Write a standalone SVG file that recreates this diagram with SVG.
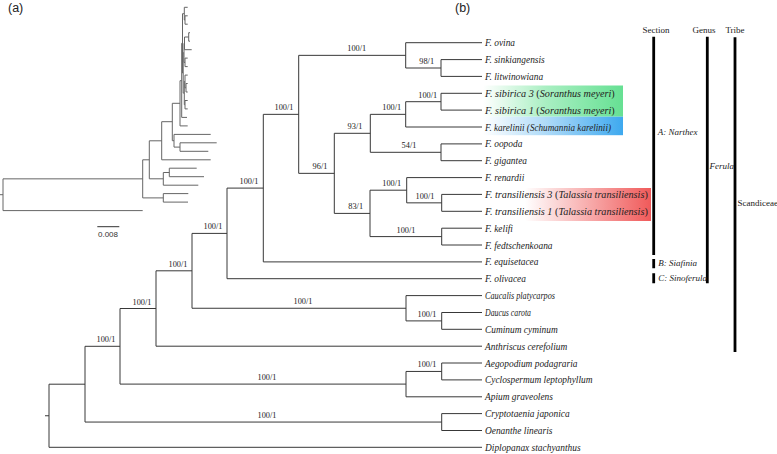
<svg xmlns="http://www.w3.org/2000/svg" width="777" height="454" viewBox="0 0 777 454">
<style>
.br{fill:none;stroke:#383838;stroke-width:1}
.bra{fill:none;stroke:#666;stroke-width:1}
.tx{font-family:"Liberation Serif","Times New Roman",serif;font-style:italic;font-size:9.4px;fill:#222}
.txl{font-size:10.2px}
.up{font-style:normal}
.sp{font-family:"Liberation Serif","Times New Roman",serif;font-size:8.3px;fill:#222;text-anchor:middle}
.hd{font-family:"Liberation Serif","Times New Roman",serif;font-size:9px;fill:#222;text-anchor:middle}
.cl{font-family:"Liberation Serif","Times New Roman",serif;font-size:9px;fill:#222}
.it{font-style:italic}
.bar{stroke:#000;stroke-width:2.8;fill:none}
.pl{font-family:"Liberation Sans",Arial,sans-serif;font-size:12.5px;fill:#222}
</style>
<defs>
<linearGradient id="gGreen" x1="0" y1="0" x2="1" y2="0">
<stop offset="0" stop-color="#ffffff"/>
<stop offset="0.45" stop-color="#a9efc2"/>
<stop offset="1" stop-color="#66e093"/>
</linearGradient>
<linearGradient id="gBlue" x1="0" y1="0" x2="1" y2="0">
<stop offset="0" stop-color="#ffffff"/>
<stop offset="0.5" stop-color="#a5d6f7"/>
<stop offset="1" stop-color="#3ea9ef"/>
</linearGradient>
<linearGradient id="gRed" x1="0" y1="0" x2="1" y2="0">
<stop offset="0" stop-color="#ffffff"/>
<stop offset="0.25" stop-color="#ffffff"/>
<stop offset="1" stop-color="#f05a5a"/>
</linearGradient>
</defs>
<rect width="777" height="454" fill="#ffffff"/>

<!-- Panel (a) -->
<g id="panel-a">
<text class="pl" x="8" y="11.5">(a)</text>
<path class="bra" d="M0 194.7H3 M3 178.85V210.6 M3 178.85H142.7 M3 210.6H142.7
M142.7 159.8V197.9 M142.7 197.9H163.3 M163.3 193.6V202.1 M163.3 193.6H188.3 M163.3 202.1H188
M142.7 159.8H149.3 M149.3 140.8V178.8 M149.3 178.8H163.3 M163.3 172.5V185.2 M163.3 185.2H198.3 M163.3 172.5H169.3 M169.3 168.2V176.7 M169.3 168.2H196.7 M169.3 176.7H204
M149.3 140.8H161.7 M161.7 121.7V159.8 M161.7 159.8H210.7
M161.7 121.7H172.3 M172.3 103.3V140.7 M172.3 140.7H174 M174 134.4V147.1 M174 134.4H210.7 M174 147.1H180 M180 142.8V151.3 M180 142.8H216.7 M180 151.3H208.3
M172.3 103.3H180 M180 80.7V125.9 M180 125.9H187.7
M180 80.7H181.7 M181.7 43.3V117.4 M181.7 117.4H187
M181.7 43.3H182.5 M182.5 13.7V73
M182.5 13.7H184.3 M184.3 7.3V20 M184.3 7.3H187.7 M184.3 20H185 M185 15.8V24.2 M185 15.8H187.7 M185 24.2H187.7
M182.5 73H183.2 M183.2 52.8V93.1
M183.2 52.8H184 M184 43.3V62.4 M184 43.3H184.5 M184.5 37V49.7 M184.5 49.7H191.7 M184.5 37H188.7 M188.7 32.7V41.2 M188.7 32.7H190 M188.7 41.2H190
M184 62.4H185 M185 58.1V66.6 M185 58.1H187.7 M185 66.6H187.7
M183.2 93.1H184.3 M184.3 81.4V104.7 M184.3 81.4H185 M185 75.1V87.8 M185 75.1H187.7 M185 87.8H186 M186 83.5V92 M186 83.5H187.7 M186 92H187.7
M184.3 104.7H185 M185 100.5V108.9 M185 100.5H187.7 M185 108.9H187.7"/>
<path d="M97.3 226.7H119.3" stroke="#333" stroke-width="1"/>
<text x="108" y="237" font-family="Liberation Sans,Arial,sans-serif" font-size="8" fill="#333" text-anchor="middle">0.008</text>
</g>

<text class="pl" x="455" y="11.5">(b)</text>

<!-- highlights -->
<rect x="483" y="85.5" width="140" height="31.2" fill="url(#gGreen)"/>
<rect x="483" y="116.7" width="140" height="18.5" fill="url(#gBlue)"/>
<rect x="483" y="188" width="168" height="33" fill="url(#gRed)"/>

<!-- connectors: tree (b) -->
<g id="connectors">
<path class="br" d="M45 415.75H49 M49 384.2V447.3 M49 447.3H482
M49 384.2H85 M85 346.3V422.05
M85 422.05H441.7 M441.7 413.6V430.5 M441.7 413.6H482 M441.7 430.5H482
M85 346.3H120 M120 308.5V384.1
M120 384.1H406 M406 371.45V396.8 M406 396.8H482 M406 371.45H441.7 M441.7 363V379.9 M441.7 363H482 M441.7 379.9H482
M120 308.5H156 M156 270.8V346.2 M156 346.2H482
M156 270.8H192 M192 233.4V308.25
M192 308.25H406 M406 295.6V320.9 M406 295.6H482 M406 320.9H441.7 M441.7 312.5V329.3 M441.7 312.5H482 M441.7 329.3H482
M192 233.4H227 M227 188.1V278.7 M227 278.7H482
M227 188.1H263.3 M263.3 114.35V261.9 M263.3 261.9H482
M263.3 114.35H298.7 M298.7 55.35V173.35
M298.7 55.35H405.7 M405.7 42.7V68 M405.7 42.7H482 M405.7 68H441 M441 59.6V76.4 M441 59.6H482 M441 76.4H482
M298.7 173.35H334.3 M334.3 133.3V213.4
M334.3 133.3H370.3 M370.3 114.35V152.3
M370.3 114.35H405.7 M405.7 101.7V127 M405.7 127H482 M405.7 101.7H441 M441 93.3V110.1 M441 93.3H482 M441 110.1H482
M370.3 152.3H441 M441 143.9V160.7 M441 143.9H482 M441 160.7H482
M334.3 213.4H370 M370 190.2V236.6
M370 190.2H406.7 M406.7 177.6V202.85 M406.7 177.6H482 M406.7 202.85H441.7 M441.7 194.4V211.3 M441.7 194.4H482 M441.7 211.3H482
M370 236.6H441.7 M441.7 228.2V245 M441.7 228.2H482 M441.7 245H482"/>
</g>

<!-- support values -->
<g id="support">
<text class="sp" x="356.7" y="51.3">100/1</text>
<text class="sp" x="426.7" y="64">98/1</text>
<text class="sp" x="284" y="110.3">100/1</text>
<text class="sp" x="391.7" y="110.3">100/1</text>
<text class="sp" x="427.7" y="97.7">100/1</text>
<text class="sp" x="355" y="129.3">93/1</text>
<text class="sp" x="409" y="148.3">54/1</text>
<text class="sp" x="320" y="169.3">96/1</text>
<text class="sp" x="249" y="184.1">100/1</text>
<text class="sp" x="391.7" y="186.2">100/1</text>
<text class="sp" x="425" y="198.8">100/1</text>
<text class="sp" x="355.7" y="209.4">83/1</text>
<text class="sp" x="213" y="229.4">100/1</text>
<text class="sp" x="406" y="232.6">100/1</text>
<text class="sp" x="178" y="266.8">100/1</text>
<text class="sp" x="303" y="304.2">100/1</text>
<text class="sp" x="142" y="304.5">100/1</text>
<text class="sp" x="427" y="316.9">100/1</text>
<text class="sp" x="106" y="342.3">100/1</text>
<text class="sp" x="427" y="367.4">100/1</text>
<text class="sp" x="267" y="380.1">100/1</text>
<text class="sp" x="267" y="418">100/1</text>
</g>

<!-- taxa -->
<g id="t-ovina"><text class="tx" x="485" y="46.2">F. ovina</text></g>
<g id="t-sinkiangensis"><text class="tx" x="485" y="63.1">F. sinkiangensis</text></g>
<g id="t-litwinowiana"><text class="tx" x="485" y="79.9">F. litwinowiana</text></g>
<g id="t-sibirica3"><text class="tx txl" x="485" y="96.8">F. sibirica 3 <tspan class="up">(</tspan>Soranthus meyeri<tspan class="up">)</tspan></text></g>
<g id="t-sibirica1"><text class="tx txl" x="485" y="113.6">F. sibirica 1 <tspan class="up">(</tspan>Soranthus meyeri<tspan class="up">)</tspan></text></g>
<g id="t-karelinii"><text class="tx" x="485" y="130.5" textLength="126" lengthAdjust="spacingAndGlyphs">F. karelinii (Schumannia karelinii)</text></g>
<g id="t-oopoda"><text class="tx" x="485" y="147.4">F. oopoda</text></g>
<g id="t-gigantea"><text class="tx" x="485" y="164.2">F. gigantea</text></g>
<g id="t-renardii"><text class="tx" x="485" y="181.1">F. renardii</text></g>
<g id="t-transiliensis3"><text class="tx txl" x="485" y="197.9">F. transiliensis 3 <tspan class="up">(</tspan>Talassia transiliensis<tspan class="up">)</tspan></text></g>
<g id="t-transiliensis1"><text class="tx txl" x="485" y="214.8">F. transiliensis 1 <tspan class="up">(</tspan>Talassia transiliensis<tspan class="up">)</tspan></text></g>
<g id="t-kelifi"><text class="tx" x="485" y="231.7">F. kelifi</text></g>
<g id="t-fedtschenkoana"><text class="tx" x="485" y="248.5">F. fedtschenkoana</text></g>
<g id="t-equisetacea"><text class="tx" x="485" y="265.4">F. equisetacea</text></g>
<g id="t-olivacea"><text class="tx" x="485" y="282.2">F. olivacea</text></g>
<g id="t-caucalis"><text class="tx" x="485" y="299.1" textLength="70" lengthAdjust="spacingAndGlyphs">Caucalis platycarpos</text></g>
<g id="t-daucus"><text class="tx" x="485" y="316" textLength="46" lengthAdjust="spacingAndGlyphs">Daucus carota</text></g>
<g id="t-cuminum"><text class="tx" x="485" y="332.8">Cuminum cyminum</text></g>
<g id="t-anthriscus"><text class="tx" x="485" y="349.7">Anthriscus cerefolium</text></g>
<g id="t-aegopodium"><text class="tx" x="485" y="366.5">Aegopodium podagraria</text></g>
<g id="t-cyclospermum"><text class="tx" x="485" y="383.4">Cyclospermum leptophyllum</text></g>
<g id="t-apium"><text class="tx" x="485" y="400.3">Apium graveolens</text></g>
<g id="t-cryptotaenia"><text class="tx" x="485" y="417.1">Cryptotaenia japonica</text></g>
<g id="t-oenanthe"><text class="tx" x="485" y="434">Oenanthe linearis</text></g>
<g id="t-diplopanax"><text class="tx" x="485" y="450.8">Diplopanax stachyanthus</text></g>

<!-- classification -->
<g id="classification">
<text class="hd" x="656" y="33">Section</text>
<text class="hd" x="704" y="33">Genus</text>
<text class="hd" x="735" y="33">Tribe</text>
<path class="bar" d="M653.7 36.7V255 M653.7 259V268.3 M653.7 273.3V283.3 M707.3 36.7V283.3 M735 37.3V352"/>
<text class="cl it" x="657.7" y="134.5">A: Narthex</text>
<text class="cl it" x="658.3" y="265.5">B: Siafinia</text>
<text class="cl it" x="658.3" y="280.5">C: Sinoferula</text>
<text class="cl it" x="709.5" y="169" font-size="8.6">Ferula</text>
<text class="cl" x="737.5" y="205.5" font-size="8.2">Scandiceae</text>
</g>
</svg>
